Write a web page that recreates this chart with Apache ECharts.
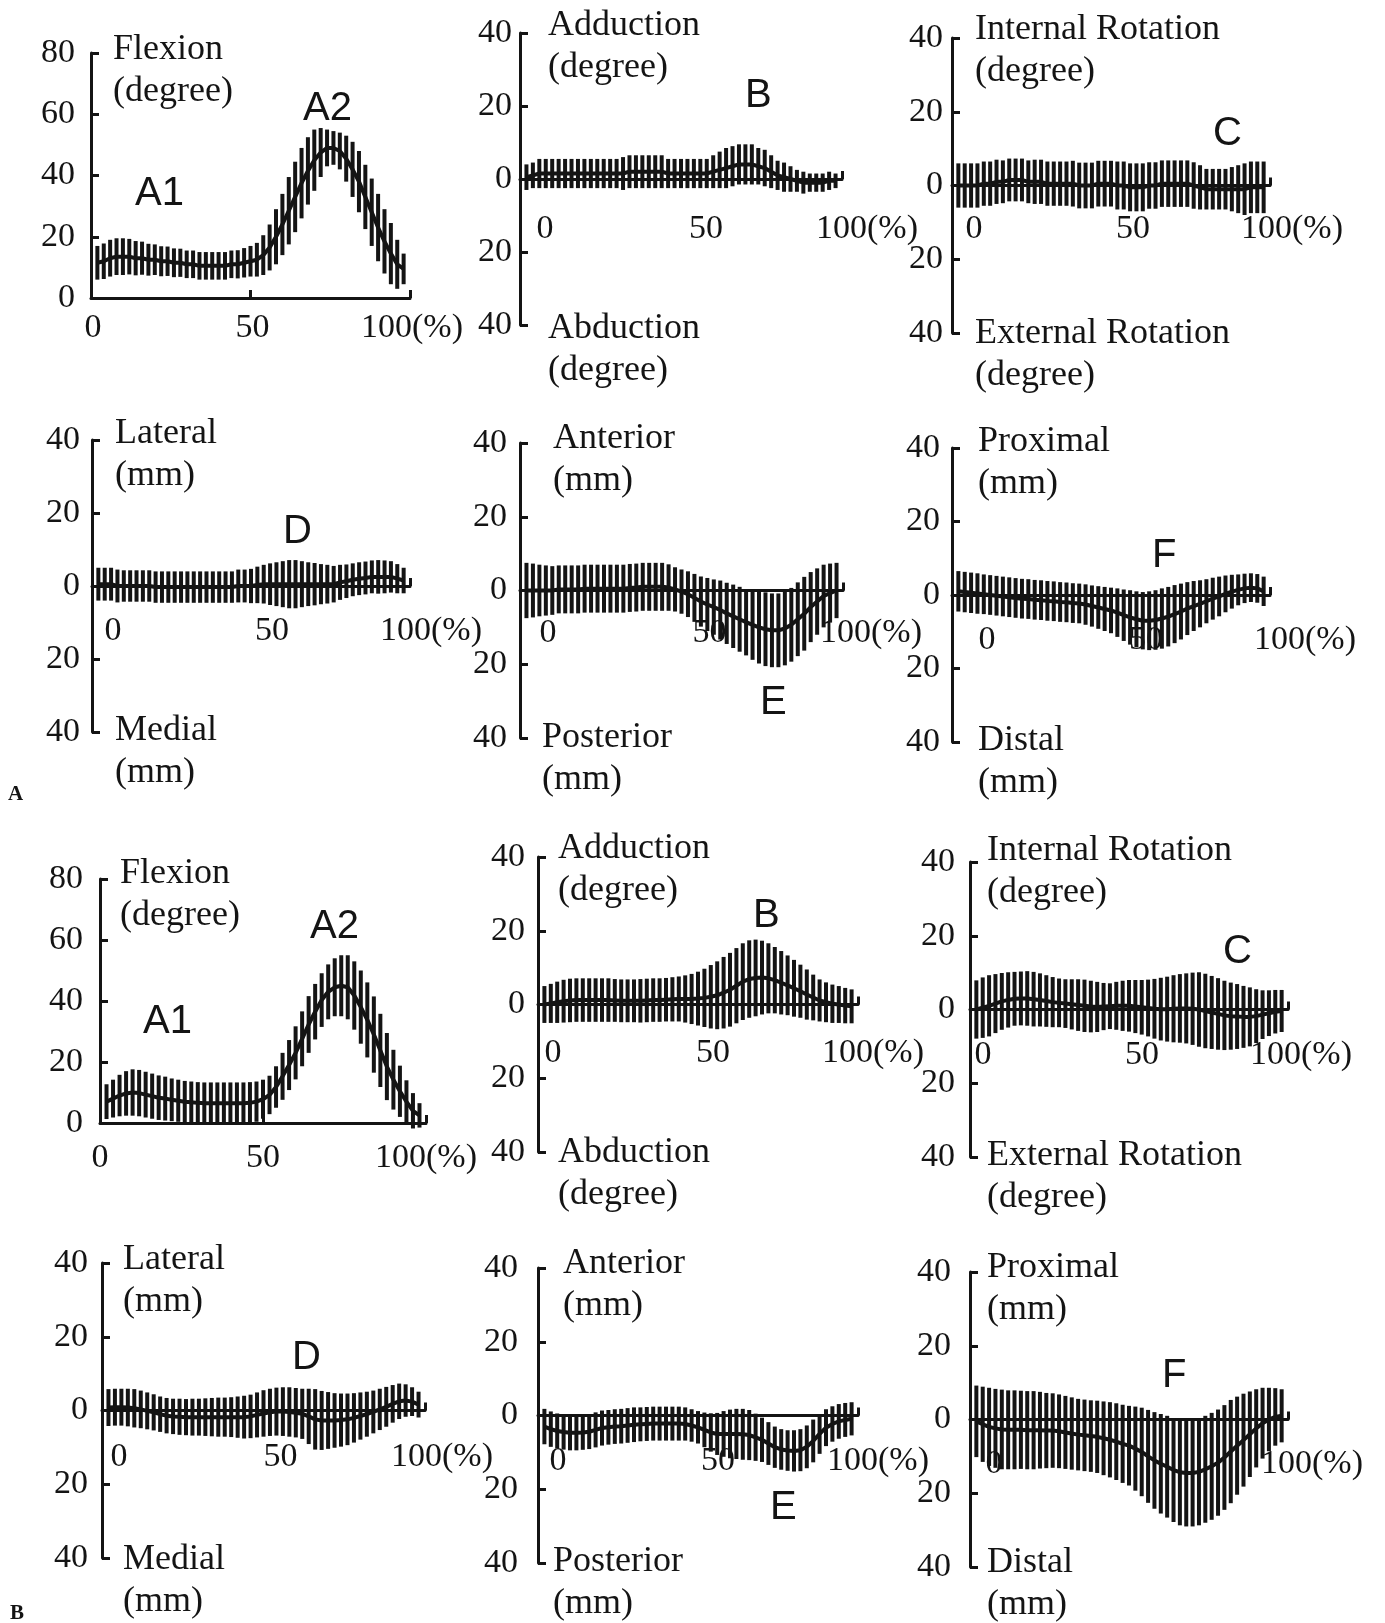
<!DOCTYPE html>
<html>
<head>
<meta charset="utf-8">
<script src="https://cdn.jsdelivr.net/npm/echarts@6/dist/echarts.min.js"></script>
<style>
html,body{margin:0;padding:0;background:#fff;}
#chart{width:1385px;height:1623px;}
</style>
</head>
<body>
<div id="chart"></div>
<script>
// ---- Data (gait cycle %, mean and SD per panel) ----
const PERCENT = [2,4,6,8,10,12,14,16,18,20,22,24,26,28,30,32,34,36,38,40,42,44,46,48,50,52,54,56,58,60,62,64,66,68,70,72,74,76,78,80,82,84,86,88,90,92,94,96,98];

// A: Flexion
const flexA_mean = [11.5,12,13,13.5,13.5,13.5,13,13,12.5,12.5, 12,12,11.5,11.5,11,11,10.5,10.5,10.5,10.5, 10.5,11,11,11.5,12,12.5,14,16.5,20,24, 28.5,33,37.5,41.5,45,47.5,49,49,48,45.5, 42,38,33,28,23,18.5,14.5,11,9.5];
const flexA_sd   = [5.5,5.8,6,6,6,5.8,5.6,5.4,5.2,5, 4.9,4.8,4.7,4.6,4.5,4.5,4.5,4.5,4.5,4.5, 4.5,4.5,4.6,4.8,5,5.5,6.5,7.5,9,10, 11,11.5,11.5,11,10,8,6,5.5,6,7.5, 9,10,10.5,11,11,10.5,10,8,5];
// A: Adduction(+)/Abduction(-)
const addA_mean = [0.5,1,1.5,1.5,1.5,1.5,1.5,1.5,1.5,1.5, 1.5,1.5,1.5,1.5,1.5,1.5,2,2,2,2, 2,2,1.5,1.5,1.5,1.5,1.5,1.5,1.5,2, 2.5,3,3.5,4,4,4,3.5,3,2,1, 0.5,0,-0.5,-1,-1,-1,-1,-0.5,-0.5];
const addA_sd   = [3.5,3.5,4,4,4,4,4,4,4,4, 4,4,4,4,4,4.5,4.5,4.5,4.5,4.5, 4.5,4.5,4,4,4,4,4,4,4,4.5, 5,5.5,5.5,5.5,5.5,5.5,5,5,4.5,4, 4,3.5,3,3,2.5,2.5,2.5,2.5,2];
// A: Internal(+)/External(-) rotation
const rotA_mean = [0,0,0,0,0.5,0.5,1,1,1.5,1.5, 1.5,1,1,1,0.5,0.5,0.5,0.5,0.5,0, 0,0,0.5,0.5,0.5,0,0,-0.5,-0.5,-0.5, 0,0,0.5,0.5,0.5,0.5,0.5,0,-0.5,-1, -1,-1,-1,-1,-1,-1,-0.5,-0.5,-0.5];
const rotA_sd   = [6,6,6,6,6,6,6,5.8,5.8,5.8, 5.8,5.8,6,6,6,6,6,6,6.2,6.2, 6.2,6.2,6.2,6.2,6.2,6.5,6.5,6.5,6.5,6.5, 6.3,6.3,6.3,6.3,6.3,6.3,6.3,6.3,6,5.5, 5.5,5.5,5.5,6,6.5,7,7,7,7];
// A: Lateral(+)/Medial(-)
const latA_mean = [0.5,0.5,0.5,0,0,0,0,0,0,-0.3, -0.3,-0.3,-0.3,-0.3,-0.3,-0.3,-0.3,-0.3,-0.3,-0.3, -0.3,-0.3,0,0,0,0.3,0.5,0.5,0.5,0.5, 0.5,0.5,0.5,0.5,0.5,0.5,0.5,0.5,1,1.3, 1.7,2,2.2,2.5,2.5,2.5,2.5,2,1.5];
const latA_sd   = [4.5,4.5,4.5,4.5,4.3,4.3,4.3,4.3,4.3,4.3, 4.3,4.3,4.3,4.3,4.3,4.3,4.3,4.3,4.3,4.3, 4.3,4.3,4.5,4.5,4.7,5,5.3,5.7,6,6.3, 6.6,6.6,6.3,6,5.8,5.5,5.3,5,4.8,4.6, 4.5,4.5,4.5,4.5,4.6,4.5,4.3,4,3.5];
// A: Anterior(+)/Posterior(-)
const antA_mean = [0,0,0,0,0,0.3,0.3,0.3,0.3,0.5, 0.5,0.5,0.5,0.5,0.5,0.5,0.7,0.8,1,1, 1,1,0.8,0.3,-0.3,-1,-2,-3,-3.8,-4.5, -5.3,-6.2,-7,-7.8,-8.6,-9.3,-10,-10.5,-10.8,-10.8, -10.3,-9.3,-7.8,-6.3,-4.5,-3,-1.5,-0.7,0];
const antA_sd   = [7.5,7.3,7,6.8,6.6,6.5,6.5,6.5,6.5,6.5, 6.5,6.5,6.5,6.5,6.5,6.5,6.5,6.5,6.5,6.5, 6.5,6.5,6.3,6,6,6.2,6.5,6.8,7.2,7.5, 8,8.3,8.6,8.8,9,9.5,9.8,10,10,10, 10,10,10,10,9.5,9,8.5,8,7.5];
// A: Proximal(+)/Distal(-)
const proxA_mean = [1,0.8,0.6,0.4,0.2,0,-0.2,-0.4,-0.6,-0.8, -1,-1.1,-1.3,-1.4,-1.6,-1.7,-1.9,-2,-2.2,-2.3, -2.6,-3,-3.4,-3.8,-4.2,-4.8,-5.5,-6.1,-6.6,-7, -7,-6.8,-6.4,-5.9,-5.2,-4.5,-3.7,-3,-2.4,-1.7, -1,-0.4,0.3,0.9,1.4,1.8,2,1.8,1];
const proxA_sd   = [5.5,5.5,5.5,5.5,5.4,5.4,5.4,5.4,5.4,5.4, 5.4,5.4,5.4,5.4,5.4,5.4,5.4,5.4,5.4,5.4, 5.5,5.6,5.8,6,6.2,6.6,7,7.4,7.6,7.8, 8,8.1,8.2,8.1,7.9,7.6,7.2,6.8,6.4,6, 5.7,5.4,5,4.6,4.2,4,3.9,3.9,4];

// B: Flexion
const flexB_mean = [7,8,9,9.7,10,9.8,9.3,8.8,8.3,8, 7.6,7.3,7,6.8,6.6,6.5,6.5,6.5,6.5,6.5, 6.5,6.5,6.6,7,7.8,9.2,11.8,15.3,19,23, 27.6,32.3,36.5,40.3,43,44.5,45,44.5,41.8,38, 33.8,29,23.8,18.5,14.2,10.4,7,4,2.5];
const flexB_sd   = [5.7,6.2,6.8,7.3,7.6,7.6,7.5,7.4,7.3,7.2, 7,6.9,6.8,6.8,6.8,6.8,6.8,6.8,6.8,6.8, 6.8,6.8,6.8,6.6,6.4,6.3,6.8,7.7,8.2,8.7, 9,9.3,9.1,8.8,9,9.5,10,10.5,11.2,12, 12.3,12.5,12,11,9.8,8.4,7,5.8,4];
// B: Adduction/Abduction
const addB_mean = [0,0.3,0.6,0.9,1.1,1.2,1.2,1.2,1.2,1.2, 1.2,1.1,1,1,1,1,1.1,1.2,1.2,1.3, 1.4,1.5,1.5,1.5,1.6,1.8,2.1,2.5,3.2,4, 5.1,6.2,6.9,7.2,7.3,7.1,6.6,5.9,5.2,4.4, 3.6,2.7,1.9,1.1,0.6,0.2,0,-0.3,-0.5];
const addB_sd   = [5,5.3,5.6,5.8,5.9,5.9,5.9,5.9,5.9,5.9, 5.9,5.8,5.8,5.8,5.8,5.9,5.9,5.9,5.9,5.9, 6,6.1,6.4,6.8,7.3,7.9,8.6,9.2,9.7,10, 10.2,10.4,10.5,10.4,10,9.5,9,8.6,8.1,7.7, 7.2,6.8,6.2,5.7,5.4,5.2,5,4.8,4.6];
// B: Internal/External rotation
const rotB_mean = [0,0.5,1,1.6,2.2,2.6,2.9,3,3,2.8, 2.6,2.3,2,1.8,1.6,1.4,1.2,1,0.8,0.7, 0.8,0.9,1,1,1,0.8,0.6,0.4,0.2,0.1, 0.1,0.2,0.3,0.3,0.2,0,-0.4,-0.8,-1.2,-1.6, -1.8,-1.9,-2,-2,-1.8,-1.4,-1,-0.6,-0.4];
const rotB_sd   = [7.9,8.2,8.3,8,7.7,7.5,7.3,7.3,7.4,7.4, 7.2,7,6.8,6.6,6.6,6.8,7,7.1,7,6.8, 6.4,6.2,6.5,6.8,7,7.2,7.4,7.7,8.1,8.5, 8.8,9.1,9.3,9.5,9.8,10.1,10.1,9.9,9.7,9.4, 9.1,8.8,8.4,8,7.3,6.6,6.2,5.9,5.7];
// B: Lateral/Medial
const latB_mean = [0.8,0.9,0.9,0.8,0.6,0.3,-0.1,-0.5,-1,-1.4, -1.6,-1.7,-1.8,-1.8,-1.8,-1.8,-1.8,-1.8,-1.8,-1.8, -1.8,-1.8,-1.6,-1.2,-0.8,-0.5,-0.3,-0.3,-0.4,-0.6, -0.9,-1.6,-2.4,-2.7,-2.7,-2.7,-2.6,-2.4,-2,-1.5, -1,-0.4,0.3,1,1.8,2.5,2.7,2.4,1.6];
const latB_sd   = [5,5,5,5.1,5.2,5.1,5,4.9,4.8,4.8, 4.8,4.9,4.9,5,5,5.1,5.2,5.3,5.3,5.4, 5.6,5.8,5.9,6.1,6.3,6.4,6.5,6.6,6.7,6.7, 6.8,7.5,8.2,8,7.7,7.4,7.2,7,6.7,6.4, 6.1,5.8,5.6,5.4,5.1,4.8,4.4,3.9,3.5];
// B: Anterior/Posterior
const antB_mean = [-3,-3.7,-4.2,-4.5,-4.7,-4.7,-4.6,-4.4,-3.9,-3.4, -3.2,-3,-2.9,-2.7,-2.5,-2.4,-2.3,-2.2,-2.2,-2.2, -2.2,-2.2,-2.3,-2.7,-3.2,-3.9,-4.6,-5,-5,-5, -5,-5.1,-5.3,-5.9,-6.6,-7.6,-8.6,-9.2,-9.5,-9.6, -9.4,-8.5,-6.9,-5,-3.3,-2.3,-1.6,-1.2,-0.9];
const antB_sd   = [4.8,4.8,4.75,4.75,4.75,4.75,4.7,4.7,4.75,4.75, 4.7,4.7,4.7,4.7,4.7,4.6,4.6,4.6,4.6,4.6, 4.6,4.6,4.5,4.4,4.4,4.7,5.2,5.7,6.2,6.6, 6.8,6.9,6.8,6.4,6,5.8,5.6,5.5,5.5,5.6, 5.7,5.8,5.8,5.4,5,4.8,4.7,4.6,4.5];
// B: Proximal/Distal
const proxB_mean = [-0.5,-1.3,-2,-2.4,-2.7,-2.8,-2.8,-2.8,-2.9,-2.9, -2.9,-3,-3,-3.2,-3.5,-3.8,-4.1,-4.3,-4.5,-4.7, -5.1,-5.5,-6,-6.6,-7.1,-7.9,-8.8,-10,-11.1,-12, -12.8,-13.7,-14.3,-14.5,-14.5,-14.2,-13.5,-12.7,-11.7,-10.3, -8.7,-7.1,-5.6,-4,-2.4,-1,0,0.7,1];
const proxB_sd   = [9.7,10.2,10.6,10.7,10.8,10.7,10.7,10.6,10.6,10.6, 10.4,10.2,10.1,10,9.9,9.8,9.7,9.7,9.7,9.8, 10,10.2,10.4,10.6,10.8,11.4,12,12.6,13.1,13.5, 13.8,14.1,14.4,14.5,14.5,14.5,14.5,14.5,14.4,14.2, 14,13.3,12.6,11.6,10.6,9.6,8.6,7.8,7.2];

// tick labels
const X_TICK_LABELS = [0, 50, 100];
const X_TICK_LABELS_NO50 = [0, 100];

// ---- Layout ----
const SERIF = 'Liberation Serif';
const SANS = 'Liberation Sans';
const INK = '#141414';

const panels = [
  {l:91,  t:53,   w:319, h:245, flex:true, mean:flexA_mean, sd:flexA_sd, xs:2,  xm:13, ym:16},
  {l:520, t:33,   w:322, h:292, mean:addA_mean,  sd:addA_sd,  xs:25, xm:33, ym:8},
  {l:952, t:38,   w:318, h:295, mean:rotA_mean,  sd:rotA_sd,  xs:22, xm:27, ym:9},
  {l:92,  t:440,  w:318, h:292, mean:latA_mean,  sd:latA_sd,  xs:21, xm:28, ym:12},
  {l:520, t:443,  w:323, h:295, mean:antA_mean,  sd:antA_sd,  xs:28, xm:26, ym:13},
  {l:952, t:448,  w:318, h:294, mean:proxA_mean, sd:proxA_sd, xs:35, xm:28, ym:12},
  {l:100, t:879,  w:326, h:244, flex:true, mean:flexB_mean, sd:flexB_sd, xs:0, xm:18, ym:17},
  {l:538, t:857,  w:320, h:295, mean:addB_mean,  sd:addB_sd,  xs:15, xm:32, ym:13},
  {l:970, t:862,  w:318, h:295, mean:rotB_mean,  sd:rotB_sd,  xs:13, xm:29, ym:15},
  {l:102, t:1263, w:323, h:295, mean:latB_mean,  sd:latB_sd,  xs:17, xm:30, ym:14},
  {l:538, t:1268, w:320, h:295, mean:antB_mean,  sd:antB_sd,  xs:20, xm:29, ym:20},
  {l:970, t:1272, w:318, h:295, mean:proxB_mean, sd:proxB_sd, xs:24, xm:28, ym:19, no50:true}
];

const axisLineStyle = {color: INK, width: 3};
const labelFont = {fontFamily: SERIF, fontSize: 34, color: INK, lineHeight: 34};

const grid = [], xAxis = [], yAxis = [], series = [];
panels.forEach((p, i) => {
  grid.push({left: p.l, top: p.t, width: p.w, height: p.h, containLabel: false});
  xAxis.push({
    gridIndex: i, type: 'value', min: 0, max: 100,
    position: 'bottom',
    // symmetric panels: the axis sits on the zero line (middle of the grid)
    offset: p.flex ? 0 : -p.h / 2,
    axisLine: {show: true, onZero: false, lineStyle: axisLineStyle},
    axisTick: {show: true, inside: true, length: 8, lineStyle: {color: INK, width: 3},
               customValues: p.flex ? [50, 100] : [100]},
    axisLabel: Object.assign({
      customValues: p.no50 ? X_TICK_LABELS_NO50 : X_TICK_LABELS,
      formatter: v => v === 100 ? '100(%)' : String(v),
      margin: p.xm,
      padding: [0, 0, 0, 2 * p.xs]
    }, labelFont),
    splitLine: {show: false}
  });
  yAxis.push({
    gridIndex: i, type: 'value',
    min: p.flex ? 0 : -40, max: p.flex ? 80 : 40, interval: 20,
    axisLine: {show: true, onZero: false, lineStyle: axisLineStyle},
    axisTick: {show: true, inside: true, length: 8, lineStyle: {color: INK, width: 3}},
    axisLabel: Object.assign({formatter: v => String(Math.abs(v)), margin: p.ym}, labelFont),
    splitLine: {show: false}
  });
  series.push({
    type: 'custom', xAxisIndex: i, yAxisIndex: i, z: 3, silent: true,
    data: PERCENT.map((x, k) => [x, p.mean[k] - p.sd[k], p.mean[k] + p.sd[k]]),
    encode: {x: 0, y: [1, 2]},
    renderItem: (params, api) => {
      const a = api.coord([api.value(0), api.value(1)]);
      const b = api.coord([api.value(0), api.value(2)]);
      return {type: 'line', shape: {x1: a[0], y1: a[1], x2: b[0], y2: b[1]},
              style: {stroke: INK, lineWidth: 4}};
    }
  });
  series.push({
    type: 'line', xAxisIndex: i, yAxisIndex: i, z: 4, silent: true,
    data: PERCENT.map((x, k) => [x, p.mean[k]]),
    symbol: 'none', showSymbol: false,
    lineStyle: {color: INK, width: 4}
  });
});

// ---- Texts ----
function serifText(text, left, top) {
  return {text, left, top, padding: 0,
    textStyle: {fontFamily: SERIF, fontSize: 36, fontWeight: 'normal', color: INK, lineHeight: 42}};
}
function sansText(text, left, top) {
  return {text, left, top, padding: 0,
    textStyle: {fontFamily: SANS, fontSize: 40, fontWeight: 'normal', color: INK, lineHeight: 40}};
}
function boldText(text, left, top) {
  return {text, left, top, padding: 0,
    textStyle: {fontFamily: SERIF, fontSize: 21, fontWeight: 'bold', color: INK, lineHeight: 21}};
}

const title = [
  serifText('Flexion\n(degree)', 113, 29),
  serifText('Adduction\n(degree)', 548, 5),
  serifText('Abduction\n(degree)', 548, 308),
  serifText('Internal Rotation\n(degree)', 975, 9),
  serifText('External Rotation\n(degree)', 975, 313),
  serifText('Lateral\n(mm)', 115, 413),
  serifText('Medial\n(mm)', 115, 710),
  serifText('Anterior\n(mm)', 553, 418),
  serifText('Posterior\n(mm)', 542, 717),
  serifText('Proximal\n(mm)', 978, 421),
  serifText('Distal\n(mm)', 978, 720),
  serifText('Flexion\n(degree)', 120, 853),
  serifText('Adduction\n(degree)', 558, 828),
  serifText('Abduction\n(degree)', 558, 1132),
  serifText('Internal Rotation\n(degree)', 987, 830),
  serifText('External Rotation\n(degree)', 987, 1135),
  serifText('Lateral\n(mm)', 123, 1239),
  serifText('Medial\n(mm)', 123, 1539),
  serifText('Anterior\n(mm)', 563, 1243),
  serifText('Posterior\n(mm)', 553, 1541),
  serifText('Proximal\n(mm)', 987, 1247),
  serifText('Distal\n(mm)', 987, 1542),
  sansText('A1', 135, 174),
  sansText('A2', 303, 89),
  sansText('B', 745, 76),
  sansText('C', 1213, 114),
  sansText('D', 283, 512),
  sansText('E', 760, 683),
  sansText('F', 1152, 536),
  sansText('A1', 143, 1002),
  sansText('A2', 310, 907),
  sansText('B', 753, 896),
  sansText('C', 1223, 932),
  sansText('D', 292, 1338),
  sansText('E', 770, 1488),
  sansText('F', 1162, 1356),
  boldText('A', 8, 784),
  boldText('B', 10, 1603)
];

const chart = echarts.init(document.getElementById('chart'), null, {renderer: 'canvas'});
chart.setOption({
  backgroundColor: '#ffffff',
  animation: false,
  title, grid, xAxis, yAxis, series
});
</script>
</body>
</html>
